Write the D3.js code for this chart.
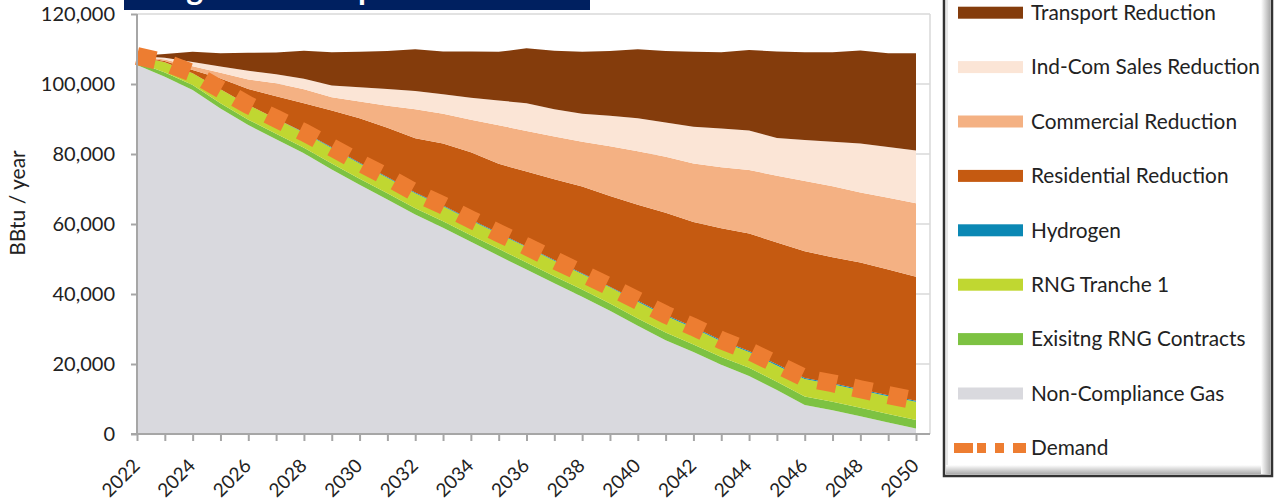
<!DOCTYPE html>
<html><head><meta charset="utf-8">
<script src="https://cdn.jsdelivr.net/npm/d3@7"></script>
<style>
body{margin:0;background:#fff;}
svg{display:block;font-family:Lato,"Open Sans",sans-serif;}
</style>
</head><body>
<svg id="chart" width="1275" height="501"></svg>
<script>
// ---------------- data (BBtu / year) ----------------
const years = [2022,2023,2024,2025,2026,2027,2028,2029,2030,2031,2032,2033,2034,2035,2036,2037,2038,2039,2040,2041,2042,2043,2044,2045,2046,2047,2048,2049,2050];
const nonComplianceGas = [105400,102100,98300,93000,88300,84200,80200,75600,71200,67000,62700,58900,54900,50900,47000,43100,39200,35200,30900,26800,23400,19800,16600,12600,8300,6800,5100,3300,1600];
const existingRNG = [900,1200,1400,1500,1500,1600,1600,1700,1700,1800,1800,1900,1900,2000,2000,2000,2100,2100,2100,2200,2200,2200,2300,2300,2400,2400,2400,2400,2400];
const rngTranche1 = [1700,2900,3400,4000,4200,4300,4300,4400,4400,4400,4300,4300,4300,4300,4400,4400,4400,4600,4800,4800,4700,4500,4500,4700,5000,5000,5000,5100,5200];
const hydrogen = [0,0,0,0,0,0,100,200,200,200,200,200,200,200,200,200,200,200,300,300,300,300,300,300,300,300,300,300,300];
const residentialReduction = [0,400,900,3100,4600,6400,8300,10500,12700,14100,15500,17700,19200,19800,21400,23100,24800,25900,27400,29100,30000,32000,33600,34800,36200,36000,36200,35900,35400];
const commercialReduction = [0,400,1100,1600,2700,3700,4000,3800,4800,6300,8300,8500,9300,11000,11600,12200,12800,14200,15300,16000,16700,17400,18100,19100,20100,20300,20000,20500,21000];
const indComSalesReduction = [0,500,1200,1800,2500,2600,3000,3400,4100,4800,5200,5600,6300,7100,7900,7800,8000,8700,9400,9800,10500,11100,11300,10800,11700,12700,14000,14500,15100];
const transportReduction = [0,1100,2900,3800,5100,6200,8000,9500,10100,10800,11900,12200,13200,13900,15700,16700,17700,18500,19700,20400,21400,21800,23000,24700,25100,25600,26600,26800,27800];
const demand = [108000,106200,103100,98500,94000,90100,86200,81900,77500,73400,69000,65300,61300,57400,53600,49700,45900,42100,38100,34100,30600,26800,23700,19900,16000,14500,12800,11100,9500];

const yTickValues = [0,20000,40000,60000,80000,100000,120000];
const xTickLabels = [2022,2024,2026,2028,2030,2032,2034,2036,2038,2040,2042,2044,2046,2048,2050];
const seriesKeys = ["Non-Compliance Gas","Exisitng RNG Contracts","RNG Tranche 1","Hydrogen","Residential Reduction","Commercial Reduction","Ind-Com Sales Reduction","Transport Reduction"];
const seriesData = [nonComplianceGas,existingRNG,rngTranche1,hydrogen,residentialReduction,commercialReduction,indComSalesReduction,transportReduction];
const seriesColors = ["#d9d9de","#7dc242","#c0d731","#0b88b4","#c55a11","#f4b183","#fbe5d6","#843c0c"];
const legendOrder = ["Transport Reduction","Ind-Com Sales Reduction","Commercial Reduction","Residential Reduction","Hydrogen","RNG Tranche 1","Exisitng RNG Contracts","Non-Compliance Gas","Demand"];
const yAxisTitle = "BBtu / year";
const chartTitle = "Long-Term Compliance Outlook";

// ---------------- drawing ----------------
const svg = d3.select("#chart");
const textColor = "#222";
const x = d3.scaleLinear().domain([2022,2050]).range([137,916]);
const y = d3.scaleLinear().domain([0,120000]).range([434,14]);
const plotRight = 930;

// title box (cut off at the top of the image, only descenders visible)
svg.append("clipPath").attr("id","titleClip").append("rect").attr("x",124).attr("y",0).attr("width",466).attr("height",10);
svg.append("rect").attr("x",124).attr("y",0).attr("width",466).attr("height",10).attr("fill","#002060");
svg.append("text").attr("clip-path","url(#titleClip)").attr("x",134).attr("y",-0.5)
  .attr("dominant-baseline","alphabetic")
  .attr("fill","#fff").attr("font-weight","bold").attr("font-size",32).text(chartTitle);

// gridlines
svg.append("g").selectAll("line").data(yTickValues.filter(d=>d>0)).join("line")
  .attr("x1",137).attr("x2",plotRight).attr("y1",d=>y(d)).attr("y2",d=>y(d))
  .attr("stroke","#d9d9d9").attr("stroke-width",1.5);
svg.append("line").attr("x1",plotRight).attr("x2",plotRight).attr("y1",y(120000)).attr("y2",y(0))
  .attr("stroke","#d9d9d9").attr("stroke-width",1.5);

// stacked areas
const table = years.map((yr,i)=>{const o={year:yr}; seriesKeys.forEach((k,j)=>o[k]=seriesData[j][i]); return o;});
const stack = d3.stack().keys(seriesKeys)(table);
const area = d3.area().x(d=>x(d.data.year)).y0(d=>y(d[0])).y1(d=>y(d[1])).curve(d3.curveLinear);
svg.append("g").selectAll("path").data(stack).join("path")
  .attr("d",area).attr("fill",(d,i)=>seriesColors[i]);

// demand line
const line = d3.line().x((d,i)=>x(years[i])).y(d=>y(d));
svg.append("path").attr("d",line(demand)).attr("fill","none").attr("stroke","#ed7d31")
  .attr("stroke-width",18).attr("stroke-dasharray","19,17").attr("stroke-linecap","butt");

// axes
const yAxis = d3.axisLeft(y).tickValues(yTickValues).tickSize(6).tickPadding(16).tickFormat(d3.format(","));
const gy = svg.append("g").attr("transform","translate(137,0)").call(yAxis);
gy.select(".domain").remove();
gy.selectAll(".tick line").attr("stroke","#a6a6a6").attr("stroke-width",2);
gy.selectAll(".tick text").attr("font-size",20).attr("fill",textColor).attr("font-family","Lato, sans-serif");

const xAxis = d3.axisBottom(x).tickValues(years).tickSize(7).tickFormat("");
const gx = svg.append("g").attr("transform","translate(0,434)").call(xAxis);
gx.select(".domain").remove();
gx.selectAll(".tick line").attr("stroke","#a6a6a6").attr("stroke-width",2);

svg.append("line").attr("x1",131).attr("x2",plotRight).attr("y1",434).attr("y2",434).attr("stroke","#a6a6a6").attr("stroke-width",2);
svg.append("line").attr("x1",137).attr("x2",137).attr("y1",14).attr("y2",434).attr("stroke","#a6a6a6").attr("stroke-width",2);

svg.append("g").selectAll("text").data(xTickLabels).join("text")
  .attr("transform",d=>`translate(${x(d)+4},467) rotate(-45)`)
  .attr("text-anchor","end").attr("font-size",19).attr("fill",textColor).text(d=>d);

svg.append("text").attr("transform","translate(25,203) rotate(-90)").attr("text-anchor","middle")
  .attr("font-size",21).attr("fill",textColor).text(yAxisTitle);

// legend box
const defs = svg.append("defs");
const gb = defs.append("linearGradient").attr("id","shB").attr("x1",0).attr("y1",0).attr("x2",0).attr("y2",1);
gb.append("stop").attr("offset","0").attr("stop-color","#ffffff");
gb.append("stop").attr("offset","1").attr("stop-color","#a8a8a8");
const gr = defs.append("linearGradient").attr("id","shR").attr("x1",0).attr("y1",0).attr("x2",1).attr("y2",0);
gr.append("stop").attr("offset","0").attr("stop-color","#ffffff");
gr.append("stop").attr("offset","1").attr("stop-color","#a8a8a8");
svg.append("rect").attr("x",944).attr("y",-10).attr("width",328).attr("height",486)
  .attr("fill","#fff").attr("stroke","#333").attr("stroke-width",2.5);
svg.append("rect").attr("x",946).attr("y",465).attr("width",324).attr("height",9.5).attr("fill","url(#shB)");
svg.append("rect").attr("x",1261).attr("y",-10).attr("width",9.5).attr("height",484).attr("fill","url(#shR)");
svg.append("line").attr("x1",947).attr("x2",947).attr("y1",-10).attr("y2",465).attr("stroke","#d0d0d0").attr("stroke-width",1);

const colorOf = {}; seriesKeys.forEach((k,i)=>colorOf[k]=seriesColors[i]);
const lg = svg.append("g");
legendOrder.forEach((name,i)=>{
  const cy = 12.7 + i*54.4;
  if(name==="Demand"){
    lg.append("line").attr("x1",954).attr("x2",1026).attr("y1",cy).attr("y2",cy)
      .attr("stroke","#ed7d31").attr("stroke-width",10).attr("stroke-dasharray","19,4,9,9,9,9,13");
  } else {
    lg.append("rect").attr("x",958).attr("y",cy-6).attr("width",65).attr("height",12).attr("fill",colorOf[name]);
  }
  lg.append("text").attr("x",1031).attr("y",cy).attr("dy","0.35em").attr("font-size",20.8)
    .attr("fill",textColor).text(name);
});
</script>
</body></html>
